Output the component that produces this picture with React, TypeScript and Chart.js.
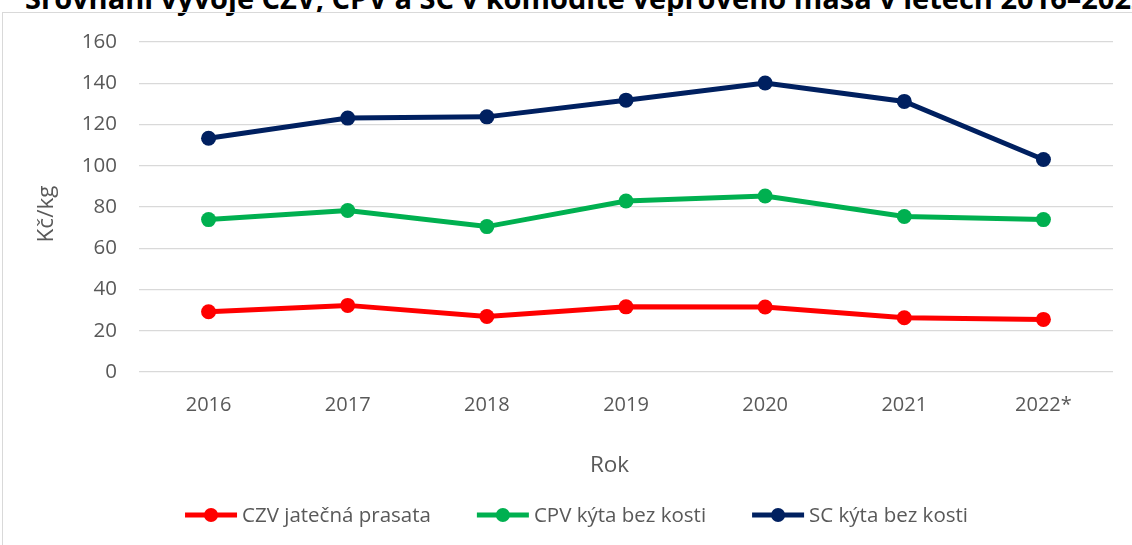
import React, { useEffect, useRef } from 'react';
import { Chart, registerables } from 'chart.js';

Chart.register(...registerables);

const chartTitle = 'Srovnání vývoje CZV, CPV a SC v komoditě vepřového masa v letech 2016–2022';
const xAxisTitle = 'Rok';
const yAxisTitle = 'Kč/kg';

const years = ['2016', '2017', '2018', '2019', '2020', '2021', '2022*'];
const seriesNames = ['CZV jatečná prasata', 'CPV kýta bez kosti', 'SC kýta bez kosti'];
const czvValues = [29.2, 32.3, 26.9, 31.6, 31.5, 26.3, 25.5];
const cpvValues = [73.9, 78.3, 70.5, 82.9, 85.3, 75.4, 73.9];
const scValues = [113.3, 123.1, 123.7, 131.8, 140.1, 131.2, 103.0];
const seriesColors = ['#FF0000', '#00B050', '#002060'];

const yMin = 0;
const yMax = 160;
const yStep = 20;

const TEXT = '#595959';
const FONT = '"Open Sans", "Liberation Sans", sans-serif';

const CANVAS_W = 1129;
const CANVAS_H = 532;

const extrasPlugin = {
  id: 'extras',
  afterDraw(chart: any) {
    const ctx = chart.ctx as CanvasRenderingContext2D;
    ctx.save();
    ctx.fillStyle = TEXT;
    ctx.textAlign = 'center';
    ctx.textBaseline = 'middle';
    ctx.font = `22.5px ${FONT}`;
    ctx.fillText(xAxisTitle, 606.5, 453);

    ctx.save();
    ctx.translate(44, 201);
    ctx.rotate(-Math.PI / 2);
    ctx.fillText(yAxisTitle, 0, 0);
    ctx.restore();

    ctx.font = `20.5px ${FONT}`;
    const items = chart.data.datasets.map((ds: any) => ({
      label: ds.label as string,
      color: ds.borderColor as string,
      w: ctx.measureText(ds.label).width,
    }));
    const lineW = 52;
    const gap = 5;
    const spacing = 46;
    const total =
      items.reduce((s: number, it: any) => s + lineW + gap + it.w, 0) + spacing * (items.length - 1);
    let x = 573.5 - total / 2;
    const y = 502;
    items.forEach((it: any) => {
      ctx.strokeStyle = it.color;
      ctx.lineWidth = 5;
      ctx.beginPath();
      ctx.moveTo(x, y);
      ctx.lineTo(x + lineW, y);
      ctx.stroke();
      ctx.fillStyle = it.color;
      ctx.beginPath();
      ctx.arc(x + lineW / 2, y, 7, 0, Math.PI * 2);
      ctx.fill();
      ctx.fillStyle = TEXT;
      ctx.textAlign = 'left';
      ctx.fillText(it.label, x + lineW + gap, y + 1);
      x += lineW + gap + it.w + spacing;
    });
    ctx.restore();
  },
};

export default function App() {
  const canvasRef = useRef<HTMLCanvasElement | null>(null);

  useEffect(() => {
    if (!canvasRef.current) return;
    const valueSets = [czvValues, cpvValues, scValues];
    const chart = new Chart(canvasRef.current, {
      type: 'line',
      data: {
        labels: years,
        datasets: seriesNames.map((name, i) => ({
          label: name,
          data: valueSets[i],
          borderColor: seriesColors[i],
          backgroundColor: seriesColors[i],
          pointBackgroundColor: seriesColors[i],
          pointBorderColor: seriesColors[i],
          pointBorderWidth: 0,
          pointRadius: 7.5,
          borderWidth: 5,
          tension: 0,
          fill: false,
        })),
      },
      options: {
        responsive: false,
        animation: false,
        devicePixelRatio: 1,
        layout: { padding: { left: 0, right: 19, top: 29, bottom: 114 } },
        plugins: {
          legend: { display: false },
          title: { display: false },
          tooltip: { enabled: false },
        },
        scales: {
          x: {
            offset: true,
            grid: { display: false, drawTicks: false },
            border: { display: false },
            ticks: {
              color: TEXT,
              font: { family: FONT, size: 20 },
              padding: 21,
              maxRotation: 0,
              autoSkip: false,
            },
            afterFit: (scale: any) => {
              scale.height = 59;
            },
          },
          y: {
            min: yMin,
            max: yMax,
            grid: { color: '#D9D9D9', lineWidth: 1.3, drawTicks: false },
            border: { display: false },
            ticks: {
              stepSize: yStep,
              color: TEXT,
              font: { family: FONT, size: 20.5 },
              padding: 22,
            },
            title: { display: false },
            afterFit: (scale: any) => {
              scale.width = 136;
              scale.paddingTop = 0;
              scale.paddingBottom = 0;
            },
          },
        },
      },
      plugins: [extrasPlugin],
    } as any);
    return () => chart.destroy();
  }, []);

  return (
    <div
      style={{
        position: 'absolute',
        left: 0,
        top: 0,
        width: 1132,
        height: 545,
        overflow: 'hidden',
        background: '#ffffff',
      }}
    >
      <div
        style={{
          position: 'absolute',
          left: 25,
          top: -17,
          whiteSpace: 'nowrap',
          fontFamily: FONT,
          fontWeight: 700,
          fontSize: 29,
          lineHeight: '29px',
          color: '#000000',
        }}
      >
        {chartTitle}
      </div>
      <div
        style={{
          position: 'absolute',
          left: 2,
          top: 12,
          width: 1160,
          height: 560,
          borderLeft: '1px solid #D9D9D9',
          borderTop: '1px solid #D9D9D9',
        }}
      />
      <canvas
        ref={canvasRef}
        width={CANVAS_W}
        height={CANVAS_H}
        style={{ position: 'absolute', left: 3, top: 13, width: CANVAS_W, height: CANVAS_H }}
      />
    </div>
  );
}
